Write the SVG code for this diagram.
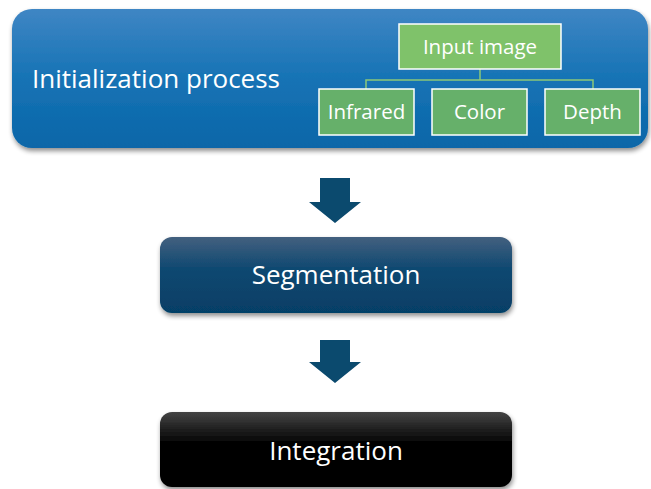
<svg xmlns="http://www.w3.org/2000/svg" width="651" height="489" viewBox="0 0 651 489">
  <defs>
    <linearGradient id="gBlue" x1="0" y1="0" x2="0" y2="1">
      <stop offset="0" stop-color="#3f86c4"/>
      <stop offset="0.5" stop-color="#1673b5"/>
      <stop offset="1" stop-color="#0a66a8"/>
    </linearGradient>
    <linearGradient id="gNavy" x1="0" y1="0" x2="0" y2="1">
      <stop offset="0" stop-color="#43607f"/>
      <stop offset="0.45" stop-color="#0b4770"/>
      <stop offset="1" stop-color="#063f66"/>
    </linearGradient>
    <linearGradient id="gBlack" x1="0" y1="0" x2="0" y2="1">
      <stop offset="0" stop-color="#444444"/>
      <stop offset="0.4" stop-color="#050505"/>
      <stop offset="1" stop-color="#000000"/>
    </linearGradient>
    <filter id="shadow" x="-5%" y="-10%" width="110%" height="130%">
      <feGaussianBlur in="SourceAlpha" stdDeviation="2.5"/>
      <feOffset dx="1" dy="3" result="b"/>
      <feComponentTransfer><feFuncA type="linear" slope="0.45"/></feComponentTransfer>
      <feMerge><feMergeNode/><feMergeNode in="SourceGraphic"/></feMerge>
    </filter>
  </defs>
  <style>
    .lbl { font-family: "Open Sans", "Noto Sans", sans-serif; fill: #ffffff; }
    .big { font-size: 26px; }
    .small { font-size: 20.5px; text-anchor: middle; }
    .leaf { stroke: #ffffff; stroke-width: 1.5; }
    .tree { fill: none; stroke: #8cc878; stroke-width: 1.5; }
    .arrow { fill: #0b4a6e; }
  </style>

  <rect width="651" height="489" fill="#ffffff"/>

  <!-- initialization stage -->
  <g id="init">
    <rect x="12" y="9" width="636" height="139" rx="20" fill="url(#gBlue)" filter="url(#shadow)"/>
    <text class="lbl big" x="32" y="88">Initialization process</text>
  </g>

  <!-- input tree inside the initialization stage -->
  <g id="tree-links">
    <path class="tree" d="M480 69 V80 M366 89 V80 H593 V89"/>
  </g>
  <g id="input-image">
    <rect class="leaf" x="399" y="24" width="162" height="45" fill="#7fc26a"/>
    <text class="lbl small" x="480" y="54">Input image</text>
  </g>
  <g id="infrared">
    <rect class="leaf" x="319" y="89" width="95" height="46" fill="#66b06a"/>
    <text class="lbl small" x="366.5" y="119">Infrared</text>
  </g>
  <g id="color">
    <rect class="leaf" x="432" y="89" width="95" height="46" fill="#66b06a"/>
    <text class="lbl small" x="479.5" y="119">Color</text>
  </g>
  <g id="depth">
    <rect class="leaf" x="545" y="89" width="95" height="46" fill="#66b06a"/>
    <text class="lbl small" x="592.5" y="119">Depth</text>
  </g>

  <!-- flow arrows between stages -->
  <g id="connectors">
    <polygon class="arrow" points="320,178 350,178 350,202 361,202 335,223 309,202 320,202"/>
    <polygon class="arrow" points="320,340 350,340 350,362 361,362 335,383 309,362 320,362"/>
  </g>

  <g id="segmentation">
    <rect x="160" y="237" width="352" height="76" rx="12" fill="url(#gNavy)" filter="url(#shadow)"/>
    <text class="lbl big" x="336" y="284" text-anchor="middle">Segmentation</text>
  </g>

  <g id="integration">
    <rect x="160" y="412" width="352" height="75" rx="12" fill="url(#gBlack)" filter="url(#shadow)"/>
    <text class="lbl big" x="336" y="460" text-anchor="middle">Integration</text>
  </g>
</svg>
